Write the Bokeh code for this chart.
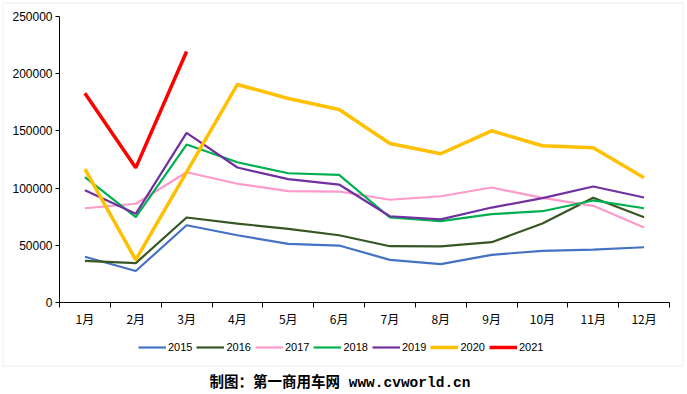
from bokeh.plotting import figure
from bokeh.models import Range1d, FixedTicker, Legend, LegendItem, Label, BoxAnnotation, NumeralTickFormatter
from bokeh.embed import file_html
from bokeh.resources import INLINE

months = ["1月", "2月", "3月", "4月", "5月", "6月", "7月", "8月", "9月", "10月", "11月", "12月"]
y_ticks = [0, 50000, 100000, 150000, 200000, 250000]
y_max = 250000

s2015 = [40000, 27500, 67500, 58800, 51300, 49800, 37300, 33500, 41700, 45200, 46300, 48300]
s2016 = [36400, 34400, 74300, 69000, 64400, 58800, 49200, 49000, 52700, 69000, 91500, 74600]
s2017 = [82400, 86300, 113900, 103800, 97300, 97000, 89800, 92900, 100500, 91500, 84500, 65600]
s2018 = [109500, 74600, 138100, 122600, 113000, 111600, 74300, 71100, 77200, 79800, 89200, 82400]
s2019 = [98200, 77500, 148300, 118000, 107800, 103100, 75400, 72600, 83000, 91200, 101400, 91800]
s2020 = [116500, 37300, 114000, 190600, 178300, 168700, 139000, 130000, 150100, 137000, 135200, 109000]
s2021 = [183000, 117700, 219400]

series = [
    ("2015", s2015, "#4472C4", 2.2),
    ("2016", s2016, "#375623", 2.2),
    ("2017", s2017, "#FF99CC", 2.2),
    ("2018", s2018, "#00B050", 2.2),
    ("2019", s2019, "#7030A0", 2.2),
    ("2020", s2020, "#FFC000", 3.5),
    ("2021", s2021, "#FF0000", 3.5),
]

# page layout (pixels): the whole canvas is the frame; axes sit at data 0
W, H = 687, 394
ax_left, ax_right, ax_top, ax_bottom = 59, 669, 16, 302
n = len(months)
xpx = (ax_right - ax_left) / n
ypx = y_max / (ax_bottom - ax_top)
x_range = Range1d(-ax_left / xpx, n + (W - ax_right) / xpx)
y_range = Range1d(-(H - ax_bottom) * ypx, y_max + ax_top * ypx)

p = figure(width=W, height=H, output_backend="svg", toolbar_location=None,
           x_range=x_range, y_range=y_range, min_border=0)
p.title.visible = False
p.outline_line_color = None
p.xgrid.visible = False
p.ygrid.visible = False

centers = [i + 0.5 for i in range(n)]

xa = p.xaxis[0]
xa.fixed_location = 0
xa.bounds = (0, n)
xa.ticker = FixedTicker(ticks=centers, minor_ticks=list(range(n + 1)))
xa.major_label_overrides = {c: m for c, m in zip(centers, months)}
xa.major_tick_out = 0
xa.major_tick_in = 0
xa.minor_tick_out = 5
xa.minor_tick_in = 0
xa.minor_tick_line_color = "black"
xa.axis_line_color = "black"
xa.major_label_standoff = 2
xa.major_label_text_font = "Noto Sans CJK SC"
xa.major_label_text_font_size = "12px"
xa.major_label_text_color = "black"

ya = p.yaxis[0]
ya.fixed_location = 0
ya.bounds = (0, y_max)
ya.ticker = FixedTicker(ticks=y_ticks, minor_ticks=[])
ya.formatter = NumeralTickFormatter(format="0")
ya.major_tick_out = 4
ya.major_tick_in = 0
ya.minor_tick_out = 0
ya.minor_tick_in = 0
ya.axis_line_color = "black"
ya.major_tick_line_color = "black"
ya.major_label_standoff = 3
ya.major_label_text_font = "Liberation Sans"
ya.major_label_text_font_size = "12px"
ya.major_label_text_color = "black"

items = []
for name, vals, color, w in series:
    r = p.line(centers[:len(vals)], vals, line_color=color, line_width=w)
    items.append(LegendItem(label=name, renderers=[r]))

legend = Legend(items=items, orientation="horizontal", location=(138, H - 353),
                glyph_width=28, glyph_height=12, label_height=12, label_standoff=2,
                spacing=4, padding=0, margin=0, border_line_color=None,
                background_fill_alpha=0, label_text_font="Liberation Sans",
                label_text_font_size="11px", label_text_color="black")
p.add_layout(legend)

frame_box = BoxAnnotation(left=2.5, right=682.5, top=2.5, bottom=365.5,
                          left_units="canvas", right_units="canvas",
                          top_units="canvas", bottom_units="canvas",
                          fill_alpha=0, line_color="#D9D9D9", line_width=1.5)
p.add_layout(frame_box)

caption = Label(x=339.5, y=H - 382.5, x_units="screen", y_units="screen",
                text="制图：第一商用车网 www.cvworld.cn", text_align="center",
                text_baseline="middle", text_font="'Liberation Mono', 'Noto Sans CJK SC'",
                text_font_style="bold", text_font_size="14.5px", text_color="black")
p.add_layout(caption)

open("out.html", "w").write(file_html(p, INLINE))
